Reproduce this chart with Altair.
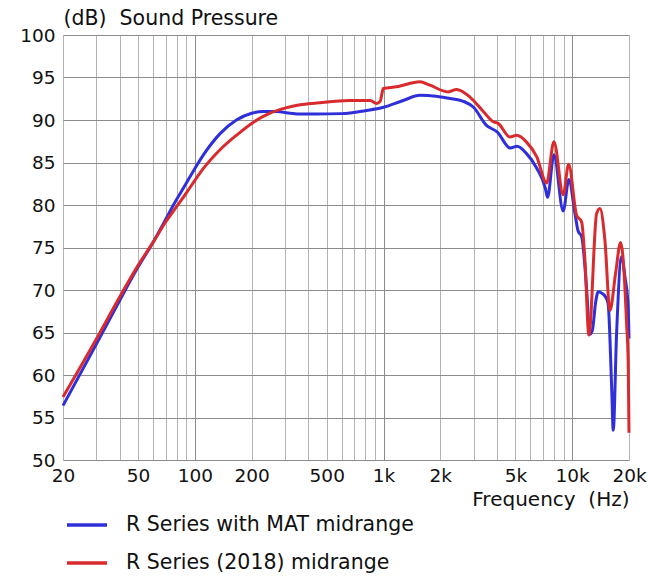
import altair as alt
import pandas as pd

# Frequency response data (Hz, dB)
blue_label = "R Series with MAT midrange"
red_label = "R Series (2018) midrange"

blue_freq = [20, 30, 40, 50, 60, 70, 77, 90, 100, 111, 136, 166, 200, 230, 271, 320, 361,
             440, 600, 800, 1000, 1270, 1560, 1900, 2300, 2650, 3000, 3500, 4000, 4700,
             5100, 5700, 6500, 7200, 7400, 8000, 8960, 9600, 10340, 10760, 11220, 11900,
             12400, 12800, 13300, 13740, 14400, 15000, 15500, 16180, 16500, 17190, 18270,
             19020, 19800, 20000]
blue_db = [56.4, 63.6, 68.8, 72.7, 75.6, 78.3, 80.0, 82.55, 84.3, 85.9, 88.4, 90.0, 90.8,
           91.0, 91.0, 90.8, 90.7, 90.7, 90.75, 91.1, 91.5, 92.3, 92.9, 92.8, 92.5, 92.2,
           91.5, 89.4, 88.6, 86.7, 86.9, 86.1, 84.3, 82.0, 80.9, 85.9, 79.3, 83.0, 79.0,
           76.9, 76.3, 70.4, 64.8, 65.3, 68.5, 69.8, 69.6, 69.2, 68.4, 58.6, 53.5, 64.9,
           73.9, 71.6, 68.0, 64.3]

red_freq = [20, 30, 40, 50, 60, 70, 80, 90, 100, 111, 136, 166, 200, 250, 300, 361, 442,
            660, 850, 919, 960, 997, 1170, 1560, 1760, 2200, 2440, 2870, 3380, 3810, 4050,
            4680, 5080, 5730, 6480, 7320, 8000, 8960, 9570, 10550, 11220, 11680, 12260,
            13470, 14030, 14900, 15850, 16990, 18050, 19020, 19420, 19810, 20000]
red_db = [57.4, 64.2, 69.2, 72.9, 75.6, 78.0, 79.8, 81.4, 82.9, 84.3, 86.5, 88.2, 89.6,
          90.8, 91.4, 91.8, 92.0, 92.3, 92.3, 91.95, 92.2, 93.7, 93.9, 94.5, 94.1, 93.3,
          93.6, 92.7, 91.0, 89.8, 89.6, 88.0, 88.2, 87.4, 85.7, 82.6, 87.45, 81.2, 84.8,
          78.8, 78.0, 73.5, 64.7, 79.0, 79.6, 75.9, 67.6, 72.0, 75.6, 70.4, 66.0, 61.5,
          53.2]

x_grid = [20, 30, 40, 50, 60, 70, 80, 90, 100, 200, 300, 400, 500, 600, 700, 800, 900,
          1000, 2000, 3000, 4000, 5000, 6000, 7000, 8000, 9000, 10000, 20000]
x_labels = [20, 50, 100, 200, 500, 1000, 2000, 5000, 10000, 20000]
y_ticks = [50, 55, 60, 65, 70, 75, 80, 85, 90, 95, 100]

blue_df = pd.DataFrame({"freq": blue_freq, "db": blue_db, "series": blue_label})
red_df = pd.DataFrame({"freq": red_freq, "db": red_db, "series": red_label})

FONT = "DejaVu Sans"
NB = "\u00a0"

label_list = "[" + ",".join(str(v) for v in x_labels) + "]"
x_axis = alt.Axis(
    values=x_grid,
    labelExpr=f"indexof({label_list}, datum.value) >= 0 ? (datum.value >= 1000 ? (datum.value/1000) + 'k' : datum.value + '') : ''",
    labelFont=FONT, labelFontSize=18.5, labelColor="#111", labelPadding=6,
    labelFlush=False, labelOverlap=False,
    ticks=False, domain=False,
    grid=True,
    gridColor={"condition": {"test": "indexof([100,1000,10000], datum.value) >= 0", "value": "#8c8c8c"}, "value": "#b4b4b4"},
    gridWidth=1,
    title="Frequency" + NB + NB + "(Hz)", titleFont=FONT, titleFontSize=20, titleFontWeight="normal",
    titleColor="#111", titleX=566, titleY=39, titleAlign="right", titleBaseline="middle",
)
y_axis = alt.Axis(
    values=y_ticks, labelFont=FONT, labelFontSize=18.5, labelColor="#111", labelPadding=8,
    ticks=False, domain=False, grid=True, gridColor="#8c8c8c", gridWidth=1,
    title="(dB)" + NB + NB + "Sound Pressure", titleFont=FONT, titleFontSize=20.5,
    titleFontWeight="normal", titleColor="#111", titleAngle=0, titleAlign="left",
    titleBaseline="middle", titleX=0, titleY=-17,
)

color = alt.Color(
    "series:N",
    scale=alt.Scale(domain=[blue_label, red_label], range=["#2f2fd9", "#d92a2d"]),
    legend=alt.Legend(
        title=None, orient="none", legendX=2, legendY=468, padding=0,
        symbolType="stroke", symbolSize=1600, symbolStrokeWidth=3.5,
        labelFont=FONT, labelFontSize=20.5, labelColor="#111", labelOffset=17,
        rowPadding=5, labelLimit=400,
    ),
)

x_enc = alt.X("freq:Q", scale=alt.Scale(type="log", domain=[20, 20000], nice=False), axis=x_axis)
y_enc = alt.Y("db:Q", scale=alt.Scale(domain=[50, 100], nice=False), axis=y_axis)

blue_line = alt.Chart(blue_df).mark_line(strokeWidth=3, interpolate="monotone").encode(
    x=x_enc, y=y_enc, color=color)
red_line = alt.Chart(red_df).mark_line(strokeWidth=3, interpolate="monotone").encode(
    x=x_enc, y=y_enc, color=color)

chart = alt.layer(blue_line, red_line).properties(
    width=566, height=425,
    autosize=alt.AutoSizeParams(type="none"),
    padding={"left": 63, "top": 35, "right": 20, "bottom": 116},
).configure_view(stroke="#8c8c8c", strokeWidth=1).configure(background="white")

chart.save("out.html", embed_options={"renderer": "svg", "actions": False})
